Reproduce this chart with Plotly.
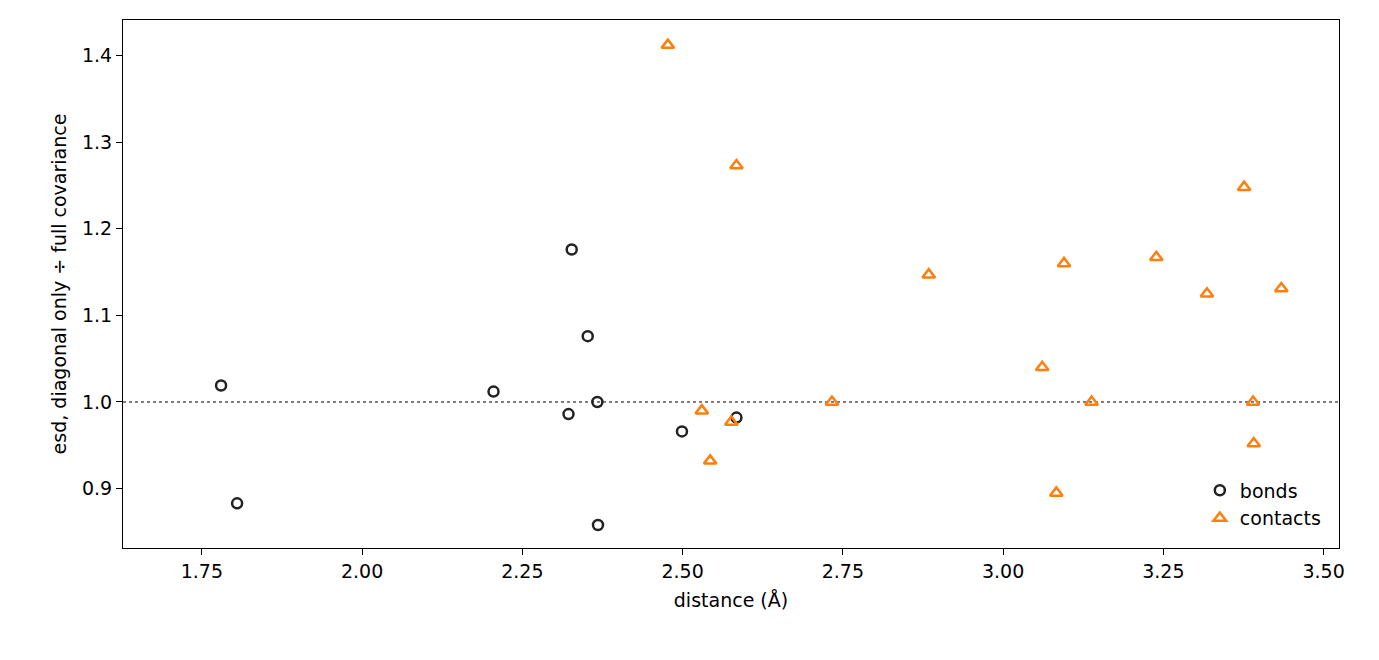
import plotly.graph_objects as go

bond_x = [1.780, 1.805, 2.205, 2.327, 2.322, 2.352, 2.367, 2.368, 2.499, 2.584]
bond_y = [1.019, 0.883, 1.012, 1.176, 0.986, 1.076, 1.000, 0.858, 0.966, 0.982]
contact_x = [2.477, 2.584, 2.530, 2.543, 2.576, 2.733, 2.884, 3.061, 3.083, 3.095,
             3.138, 3.239, 3.318, 3.376, 3.390, 3.391, 3.434]
contact_y = [1.412, 1.273, 0.990, 0.932, 0.977, 1.000, 1.147, 1.040, 0.895, 1.160,
             1.000, 1.167, 1.125, 1.248, 1.000, 0.952, 1.131]
x_ticks = [1.75, 2.00, 2.25, 2.50, 2.75, 3.00, 3.25, 3.50]
y_ticks = [0.9, 1.0, 1.1, 1.2, 1.3, 1.4]

fig = go.Figure()
fig.add_trace(go.Scatter(x=bond_x, y=bond_y, mode="markers", name="bonds",
    marker=dict(symbol="circle-open", size=10, color="#222222", line=dict(width=2.5))))
fig.add_trace(go.Scatter(x=contact_x, y=contact_y, mode="markers", name="contacts",
    marker=dict(symbol="triangle-up-open", size=11, color="#ff7f0e", line=dict(width=2.5))))
fig.add_hline(y=1.0, line=dict(color="black", width=1, dash="dot"), layer="below")

ax = dict(showgrid=False, zeroline=False, showline=True, linecolor="black", linewidth=1.2,
          mirror=True, ticks="outside", ticklen=6, tickcolor="black",
          tickfont=dict(size=19, color="black"))
fig.update_layout(
    width=1379, height=660, paper_bgcolor="white", plot_bgcolor="white",
    margin=dict(l=115, r=48, t=12, b=120),
    font=dict(family="DejaVu Sans", color="black"),
    xaxis=dict(ax, range=[1.627, 3.524], tickvals=x_ticks,
               ticktext=[f"{v:.2f}" for v in x_ticks],
               title=dict(text="distance (Å)", font=dict(size=19), standoff=12)),
    yaxis=dict(ax, range=[0.8314, 1.441], tickvals=y_ticks,
               ticktext=[f"{v:.1f}" for v in y_ticks],
               title=dict(text="esd, diagonal only ÷ full covariance", font=dict(size=19), standoff=10)),
    legend=dict(x=0.99, y=0.02, xanchor="right", yanchor="bottom",
                font=dict(size=19), bgcolor="rgba(255,255,255,0.8)"),
)
fig.write_html("out.html")
